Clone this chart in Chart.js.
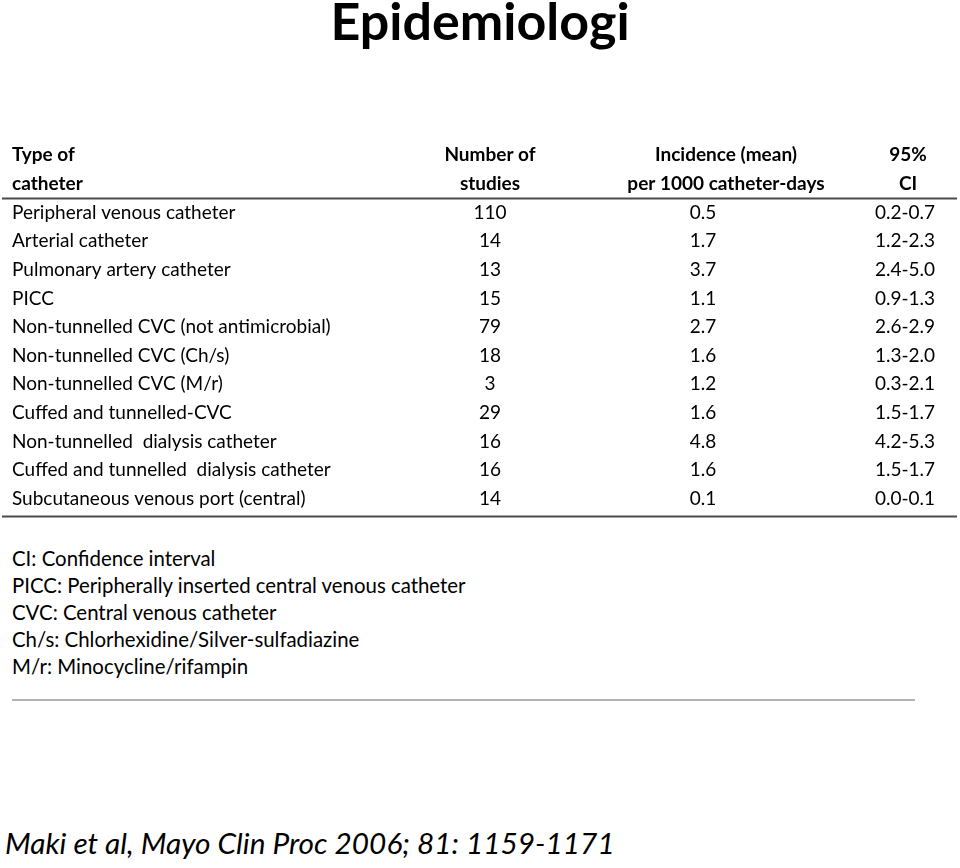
<!DOCTYPE html>
<html>
<head>
<meta charset="utf-8">
<title>Epidemiologi</title>
<script src="https://cdn.jsdelivr.net/npm/chart.js@4.4.1/dist/chart.umd.min.js"></script>
<style>
  html, body { margin: 0; padding: 0; background: #fff; }
  body { width: 960px; height: 868px; position: relative; overflow: hidden; font-family: Lato, "Open Sans", sans-serif; color: #000; }
  #title { position: absolute; left: 0; top: -11px; width: 960px; text-align: center; font-size: 52px; font-weight: 700; line-height: 62px; }
  #tableBox { position: absolute; left: 0; top: 136px; width: 960px; height: 382px; }
  #notes { position: absolute; left: 12px; top: 545px; font-size: 20.4px; line-height: 27px; }
  #rule { position: absolute; left: 12px; top: 699px; width: 903px; height: 2px; background: #b4b4b4; }
  #cite { position: absolute; left: 5px; top: 825px; font-size: 29.8px; font-style: italic; line-height: 36px; }
</style>
</head>
<body>
<div id="title">Epidemiologi</div>
<div id="tableBox"><canvas id="tableChart"></canvas></div>
<div id="notes">
  <div>CI: Confidence interval</div>
  <div>PICC: Peripherally inserted central venous catheter</div>
  <div>CVC: Central venous catheter</div>
  <div>Ch/s: Chlorhexidine/Silver-sulfadiazine</div>
  <div>M/r: Minocycline/rifampin</div>
</div>
<div id="rule"></div>
<div id="cite">Maki et al, Mayo Clin Proc 2006; 81: 1159-1171</div>

<script>
// table data
const headerTop = ['Type of', 'Number of', 'Incidence (mean)', '95%'];
const headerBottom = ['catheter', 'studies', 'per 1000 catheter-days', 'CI'];

const catheterTypes = [
  'Peripheral venous catheter',
  'Arterial catheter',
  'Pulmonary artery catheter',
  'PICC',
  'Non-tunnelled CVC (not antimicrobial)',
  'Non-tunnelled CVC (Ch/s)',
  'Non-tunnelled CVC (M/r)',
  'Cuffed and tunnelled-CVC',
  'Non-tunnelled  dialysis catheter',
  'Cuffed and tunnelled  dialysis catheter',
  'Subcutaneous venous port (central)'
];
const studyCounts = [110, 14, 13, 15, 79, 18, 3, 29, 16, 16, 14];
const incidenceMean = ['0.5', '1.7', '3.7', '1.1', '2.7', '1.6', '1.2', '1.6', '4.8', '1.6', '0.1'];
const ciLow = ['0.2', '1.2', '2.4', '0.9', '2.6', '1.3', '0.3', '1.5', '4.2', '1.5', '0.0'];
const ciHigh = ['0.7', '2.3', '5.0', '1.3', '2.9', '2.0', '2.1', '1.7', '5.3', '1.7', '0.1'];

// layout: where each column anchors on the x scale, and how its text sits there
const colAnchor = [12, 490, 703, 935];
const colAlign = ['left', 'center', 'center', 'right'];
const headerAnchor = [12, 490, 726, 908];
const headerAlign = ['left', 'center', 'center', 'center'];

const rowKeys = ['head1', 'head2'].concat(catheterTypes);

const columns = [
  catheterTypes,
  studyCounts.map(String),
  incidenceMean,
  ciLow.map((lo, i) => lo + '-' + ciHigh[i])
];

function columnDataset(c) {
  const cells = [headerTop[c], headerBottom[c]].concat(columns[c]);
  return {
    label: 'col' + c,
    cells: cells,
    data: cells.map((_, r) => ({ x: r < 2 ? headerAnchor[c] : colAnchor[c], y: rowKeys[r] })),
    pointRadius: 0,
    pointHoverRadius: 0,
    showLine: false
  };
}

const cellText = {
  id: 'cellText',
  afterDatasetsDraw(chart) {
    const ctx = chart.ctx;
    const y = chart.scales.y;
    const area = chart.chartArea;

    // rules under the header and at the bottom of the table
    ctx.save();
    ctx.strokeStyle = '#4a4a4a';
    ctx.lineWidth = 2;
    [1.5, 12.6].forEach(v => {
      const py = Math.round(y.getPixelForValue(v)) + 0.5;
      ctx.beginPath();
      ctx.moveTo(area.left, py);
      ctx.lineTo(area.right, py);
      ctx.stroke();
    });

    ctx.fillStyle = '#000';
    ctx.textBaseline = 'middle';
    chart.data.datasets.forEach((ds, c) => {
      const meta = chart.getDatasetMeta(c);
      meta.data.forEach((pt, r) => {
        const head = r < 2;
        ctx.font = (head ? '700 ' : '400 ') + '19px Lato, "Open Sans", sans-serif';
        ctx.textAlign = head ? headerAlign[c] : colAlign[c];
        ctx.fillText(ds.cells[r], pt.x, pt.y);
      });
    });
    ctx.restore();
  }
};

new Chart(document.getElementById('tableChart'), {
  type: 'scatter',
  data: { datasets: columns.map((_, c) => columnDataset(c)) },
  options: {
    responsive: true,
    maintainAspectRatio: false,
    animation: false,
    events: [],
    layout: { padding: { left: 2, right: 3, top: 5, bottom: 5 } },
    scales: {
      x: { type: 'linear', min: 2, max: 957, display: false },
      y: { type: 'category', labels: rowKeys, offset: true, display: false }
    },
    plugins: { legend: { display: false }, tooltip: { enabled: false } }
  },
  plugins: [cellText]
});
</script>
</body>
</html>
